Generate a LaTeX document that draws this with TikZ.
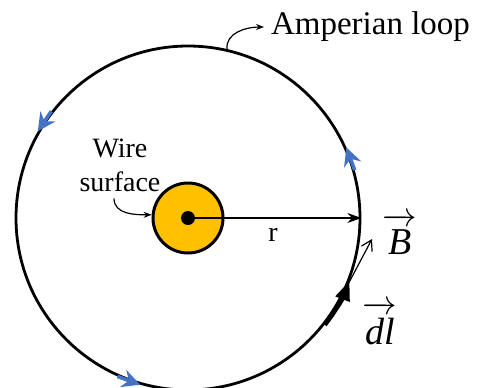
\documentclass[tikz,border=0pt]{standalone}
\usepackage{fontspec}
\setmainfont{Liberation Serif}
\usetikzlibrary{arrows.meta,positioning,calc}
\definecolor{wireorg}{HTML}{FFC000}
\definecolor{tipblue}{HTML}{4472C4}
\tikzset{
  wire/.style={circle,draw,line width=1.5pt,fill=wireorg,minimum size=35pt,inner sep=0pt},
  core/.style={circle,fill=black,minimum size=7pt,inner sep=0pt},
  loopc/.style={circle,draw,line width=1.4pt,minimum size=172pt,inner sep=0pt},
  arr/.style={-{Stealth[length=7pt,width=5pt]},line width=0.8pt},
  tiparr/.style={-{Stealth[length=9pt,width=9pt,inset=3pt]},tipblue,line width=1.8pt},
  lead/.style={-{Stealth[length=4pt,width=3pt]},line width=0.6pt},
  lbl/.style={font=\fontsize{14}{17}\selectfont,align=center},
  veclbl/.style={font=\fontsize{19}{22}\selectfont}
}
\begin{document}
\begin{tikzpicture}[x=0.5pt,y=0.5pt]
  \useasboundingbox (-188,-169) rectangle (294,218);
  % Loop and wire
  \node[loopc] (loop) at (0,0) {};
  \node[wire] (wire) at (0,0) {};
  \node[core] (dot) at (0,0) {};

  % Radius
  \draw[arr] (dot.center) -- (loop.east);
  \node[lbl] (rlbl) at (85,-17) {r};

  % Direction marks on the loop
  \foreach \a/\b in {142/150, 16/24, 246/254}
    \draw[tiparr] (loop.\a) -- (loop.\b);

  % dl and B
  \draw[line width=2.4pt,-{Triangle[length=10pt,width=7pt]}] (loop.-38) arc[start angle=-38,end angle=-21,radius=86pt];
  \coordinate (Btip) at (184,-21);
  \draw[line width=0.6pt,-{Straight Barb[length=5pt,width=6pt]}] (loop.-22) -- (Btip);
  \node[veclbl] (Blbl) at (212,-16) {$\overrightarrow{\textit{B}\rule{0pt}{0.8em}}$};
  \node[veclbl] (dllbl) at (192,-105) {$\overrightarrow{\textit{dl}\rule{0pt}{0.85em}}$};

  % Labels
  \node[lbl,font=\fontsize{16.5}{19}\selectfont,anchor=west] (amp) at (76,191) {Amperian loop};
  \draw[lead] (loop.77) to[out=95,in=180] (amp.west);
  \node[lbl] (wsurf) at (-68,53) {Wire\\surface};
  \draw[lead] ([xshift=-3pt]wsurf.south) to[out=-90,in=180] (wire.175);
\end{tikzpicture}
\end{document}
